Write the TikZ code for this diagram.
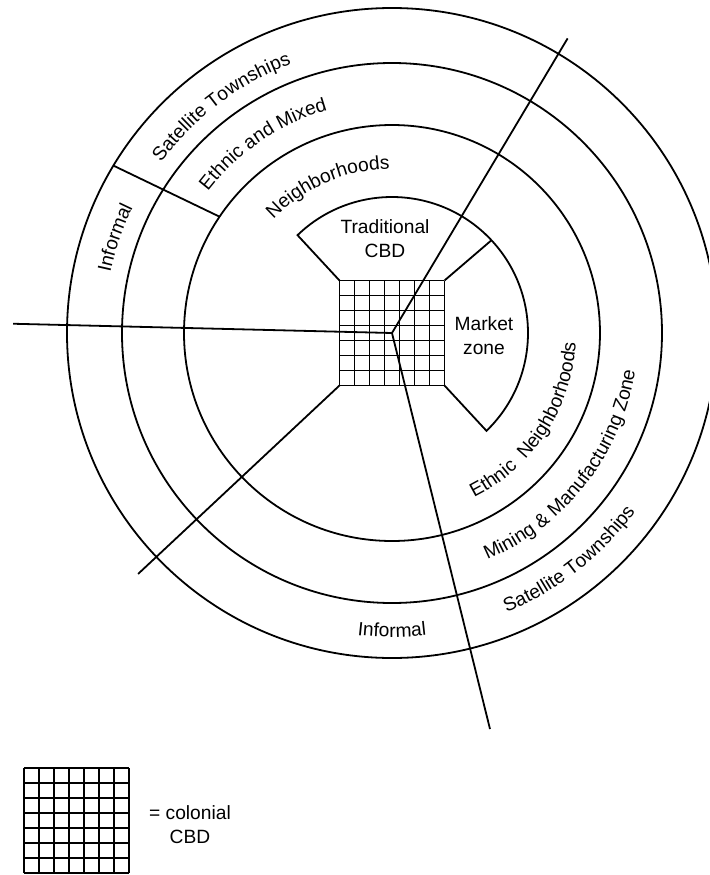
\documentclass[tikz,border=0pt]{standalone}
\usepackage{fontspec}
\setmainfont{Liberation Sans}
\usetikzlibrary{positioning,calc,decorations.text}
\newcommand{\lblfont}{\fontsize{9.6}{12}\selectfont}

\begin{document}
\begin{tikzpicture}[x=0.5pt, y=0.5pt,
  zone/.style={line width=0.9pt, black},
  gridline/.style={line width=0.8pt, black},
  lbl/.style={font=\lblfont, inner sep=0pt, align=center},
  arclbl/.style={decorate, decoration={text along path, text align=center,
                 text={|\lblfont|#1}}}
]
  \useasboundingbox (-392,-542) rectangle (317,333);
  \clip (-392,-542) rectangle (317,333);
  \coordinate (c) at (0,0);

  % rings
  \draw[zone] (c) circle[radius=208];
  \draw[zone] (c) circle[radius=270];
  \draw[zone] (c) circle[radius=325];

  % sector lines
  \draw[zone] (c) -- (59.2:343);
  \draw[zone] (c) -- (178.6:379);
  \draw[zone] (c) -- (-76.1:408);
  \draw[zone] (146:208) -- (149:325);

  % traditional CBD and market zone
  \draw[zone] (-52.5,52.5) -- (134:136)
        arc[start angle=134, end angle=-46, radius=136] -- (52.5,-52.5);
  \draw[zone] (52.5,52.5) -- (43:136);
  \draw[zone] (-52.5,-52.5) -- (223.5:350);

  % colonial CBD grids (map and key)
  \foreach \gx/\gy in {-52.5/-52.5, -368/-540} {
    \foreach \k in {0,...,7} {
      \draw[gridline] (\gx+\k*15,\gy) -- (\gx+\k*15,\gy+105);
      \draw[gridline] (\gx,\gy+\k*15) -- (\gx+105,\gy+\k*15);
    }
  }

  \node[lbl] (trad)   at (-7,94)  {Traditional\\CBD};
  \node[lbl] (market) at (92,-3)  {Market\\zone};

  % ring labels, upper left
  \path[arclbl={Neighborhoods}]
        (148.5:164) arc[start angle=148.5, end angle=78.5, radius=164];
  \path[arclbl={Ethnic and Mixed}]
        (154.3:232) arc[start angle=154.3, end angle=94.3, radius=232];
  \path[arclbl={Satellite Townships}]
        (157:287) arc[start angle=157, end angle=97, radius=287];
  \path[arclbl={Informal}]
        (186:288) arc[start angle=186, end angle=136, radius=288];

  % ring labels, lower right
  \path[arclbl={Ethnic{\ \ }Neighborhoods}]
        (-78.3:184) arc[start angle=-78.3, end angle=11.7, radius=184];
  \path[arclbl={Mining {\&} Manufacturing Zone}]
        (-83:246) arc[start angle=-83, end angle=7, radius=246];
  \path[arclbl={Satellite Townships}]
        (-82:302) arc[start angle=-82, end angle=-22, radius=302];
  \path[arclbl={Informal}]
        (-115:304) arc[start angle=-115, end angle=-65, radius=304];

  \node[lbl] (legendtxt) at (-202,-492) {= colonial\\CBD};
\end{tikzpicture}
\end{document}
